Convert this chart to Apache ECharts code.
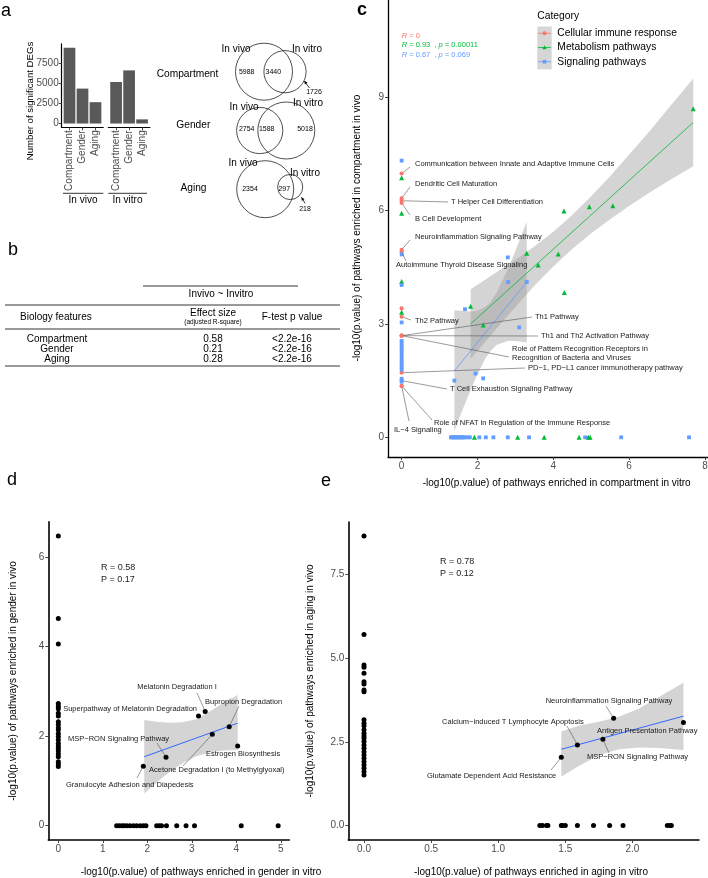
<!DOCTYPE html>
<html><head><meta charset="utf-8">
<script src="https://cdn.jsdelivr.net/npm/echarts@6/dist/echarts.min.js"></script>
<style>html,body{margin:0;padding:0;background:#fff}#c{width:708px;height:878px}</style>
</head><body><div id="c"></div>
<script>
// ---------------- DATA ----------------
const barCategories = ['Compartment', 'Gender', 'Aging'];
const invivoDEGs = [9428, 4342, 2651];
const invitroDEGs = [5166, 6606, 515];
const barTicks = [0, 2500, 5000, 7500];

const vennNames = ['Compartment', 'Gender', 'Aging'];
const vennCounts = [[5988, 3440, 1726], [2754, 1588, 5018], [2354, 297, 218]]; // vivo-only, shared, vitro-only

const tableHead = ['Invivo ~ Invitro', 'Biology features', 'Effect size', '(adjusted R-square)', 'F-test p value'];
const tableFeatures = ['Compartment', 'Gender', 'Aging'];
const tableEffect = ['0.58', '0.21', '0.28'];
const tableP = ['<2.2e-16', '<2.2e-16', '<2.2e-16'];

// panel c
const cImmune = [[0,6.98],[0,6.32],[0,6.26],[0,6.20],[0,4.96],[0,4.91],[0,3.41],[0,3.19],[0,2.69],[0,2.69],[0,2.69],[0,1.71],[0,1.50],[0,1.36],[0,1.36]];
const cMetabolism = [[0,6.87],[0,5.93],[0,4.12],[0,3.31],[4.28,5.99],[4.95,6.10],[5.57,6.13],[3.30,4.87],[4.13,4.85],[3.60,4.56],[4.29,3.83],[1.82,3.47],[2.15,2.97],[7.69,8.69],[1.92,0],[3.06,0],[3.76,0],[4.68,0],[4.92,0],[4.97,0]];
const cSignaling = [[0,7.32],[0,4.84],[0,4.03],[0,3.04],[0,2.55],[0,2.48],[0,2.40],[0,2.33],[0,2.25],[0,2.16],[0,2.08],[0,2.01],[0,1.93],[0,1.86],[0,1.79],[0,1.55],[0,1.47],[2.80,4.76],[2.81,4.11],[3.30,4.11],[1.67,3.39],[3.10,2.91],[1.95,1.69],[2.15,1.56],[1.39,1.50],[1.30,0],[1.33,0],[1.36,0],[1.39,0],[1.42,0],[1.45,0],[1.48,0],[1.51,0],[1.54,0],[1.57,0],[1.60,0],[1.63,0],[1.67,0],[1.74,0],[1.80,0],[2.05,0],[2.22,0],[2.42,0],[2.80,0],[3.36,0],[4.84,0],[5.79,0],[7.58,0]];
const cCategories = ['Cellular immune response', 'Metabolism pathways', 'Signaling pathways'];
const cStats = [['0', null], ['0.93', '0.00011'], ['0.67', '0.069']];
const cGreenFit = [[1.82, 3.00], [7.69, 8.33]];
const cBlueFit = [[1.39, 1.76], [3.30, 4.11]];
const cGreenBandX = [1.82,2.5,3,3.5,4,4.5,5,5.5,6,6.5,7,7.69];
const cGreenBandLo = [2.08,2.87,3.45,4.01,4.52,4.98,5.40,5.77,6.12,6.45,6.76,7.17];
const cGreenBandHi = [3.92,4.37,4.69,5.05,5.44,5.88,6.38,6.91,7.48,8.05,8.66,9.49];
const cBlueBandX = [1.39,1.6,1.82,2.0,2.2,2.35,2.5,2.8,3.0,3.3];
const cBlueBandLo = [0.16,0.72,1.25,1.67,2.07,2.29,2.44,2.55,2.55,2.51];
const cBlueBandHi = [3.36,3.34,3.33,3.35,3.45,3.59,3.82,4.45,4.93,5.71];
const cXTicks = [0, 2, 4, 6, 8];
const cYTicks = [0, 3, 6, 9];
const cLabelNames = ['Communication between Innate and Adaptive Immune Cells','Dendritic Cell Maturation','T Helper Cell Differentiation','B Cell Development','Neuroinflammation Signaling Pathway','Autoimmune Thyroid Disease Signaling','Th2 Pathway','Th1 Pathway','Th1 and Th2 Activation Pathway','Role of Pattern Recognition Receptors in\nRecognition of Bacteria and Viruses','PD\u22121, PD\u2212L1 cancer immunotherapy pathway','T Cell Exhaustion Signaling Pathway','Role of NFAT in Regulation of the Immune Response','IL\u22124 Signaling'];
const cLabelPoints = [[0,6.98],[0,6.32],[0,6.26],[0,6.20],[0,4.96],[0,4.91],[0,3.19],[0,2.69],[0,2.69],[0,2.69],[0,1.71],[0,1.50],[0,1.36],[0,1.36]];

// panel d
const dVivoOnly = [6.47,4.63,4.06,2.73,2.67,2.61,2.51,2.45,2.32,2.26,2.19,2.14,2.06,1.99,1.92,1.84,1.78,1.73,1.67,1.60,1.54,1.43,1.38,1.32];
const dVitroOnly = [1.31,1.37,1.43,1.48,1.54,1.61,1.69,1.76,1.84,1.91,1.97,2.21,2.27,2.32,2.43,2.66,2.87,3.06,4.11,4.94];
const dShared = [[3.15,2.45],[3.30,2.55],[3.84,2.21],[4.03,1.78],[3.46,2.04],[2.42,1.53],[1.91,1.33]];
const dSharedNames = ['Superpathway of Melatonin Degradation','Melatonin Degradation I','Bupropion Degradation','Estrogen Biosynthesis','Acetone Degradation I (to Methylglyoxal)','MSP\u2212RON Signaling Pathway','Granulocyte Adhesion and Diapedesis'];
const dFit = [[1.93, 1.54], [4.03, 2.29]];
const dBandX = [1.93,2.2,2.5,2.8,3.1,3.4,3.7,4.03];
const dBandLo = [0.72,0.96,1.20,1.40,1.55,1.64,1.68,1.69];
const dBandHi = [2.36,2.32,2.30,2.31,2.38,2.55,2.74,2.92];
const dStats = ['R = 0.58', 'P = 0.17'];
const dXTicks = [0,1,2,3,4,5];
const dYTicks = [0,2,4,6];

// panel e
const eVivoOnly = [8.65,5.71,4.80,4.73,4.55,4.30,4.23,4.05,4.00,3.16,3.06,2.98,2.86,2.76,2.68,2.61,2.51,2.41,2.31,2.21,2.11,2.01,1.91,1.81,1.71,1.61,1.51];
const eVitroOnly = [1.31,1.33,1.36,1.37,1.47,1.48,1.50,1.59,1.71,1.83,1.93,2.26,2.28,2.29];
const eShared = [[1.86,3.21],[1.59,2.41],[2.38,3.08],[1.78,2.58],[1.47,2.04]];
const eSharedNames = ['Neuroinflammation Signaling Pathway','Calcium\u2212induced T Lymphocyte Apoptosis','Antigen Presentation Pathway','MSP\u2212RON Signaling Pathway','Glutamate Dependent Acid Resistance'];
const eFit = [[1.47, 2.28], [2.38, 3.27]];
const eBandX = [1.47,1.6,1.75,1.9,2.05,2.2,2.38];
const eBandLo = [1.46,1.78,2.10,2.28,2.33,2.32,2.26];
const eBandHi = [2.81,2.98,3.10,3.25,3.50,3.85,4.27];
const eStats = ['R = 0.78', 'P = 0.12'];
const eXTicks = [0,0.5,1,1.5,2];
const eYTicks = [0,2.5,5,7.5];

// ---------------- LAYOUT ----------------
const FONT = '"Liberation Sans", Arial, Helvetica, sans-serif';
const RED = '#F8766D', GREEN = '#00BA38', BLUE = '#619CFF', SMOOTH = '#3366FF';
const BAND = 'rgba(153,153,153,0.42)';

// label layouts: [textX, textY, lineEndX, lineEndY, align]
const cLabelLayout = [[415,164,410,167],[415,184,410,187],[451,202,448,202],[415,219,410,215],[415,237,410,240],[396,265,406,261],[415,321,411,320],[535,317,532,317],[541,336,538,336],[512,353,509,357],[528,368,525,368],[450,389,447,389],[434,423,432,420],[394,430,409,421]];
const dLabelLayout = [[197,709,null,null,'right'],[177,687,197,693,'center'],[205,702,239,706],[206,754,null,null],[149,770,183,766],[68,739,157,743],[66,785,137,778]];
const eLabelLayout = [[609,701,606,706,'center'],[442,722,567,726],[597,731,null,null],[587,757,609,753],[427,776,551,770]];

const chart = echarts.init(document.getElementById('c'));

function valueAxis(gi, min, max, ticks, opt) {
  opt = opt || {};
  return {
    type: 'value', gridIndex: gi, min, max, show: opt.show !== false,
    axisLine: {show: opt.line !== false, onZero: false, lineStyle: {color: '#000', width: opt.lw || 1.2}},
    axisTick: {show: opt.ticks !== false, customValues: ticks, length: 3, lineStyle: {color: '#333', width: 0.9}},
    axisLabel: {show: opt.labels !== false, customValues: ticks, color: '#4d4d4d', fontSize: opt.fs || 10, fontFamily: FONT, margin: opt.margin || 4,
      rotate: opt.rotate || 0, formatter: opt.fmt || (v => String(v))},
    splitLine: {show: false}
  };
}

function band(xi, bx, lo, hi) {
  return {type: 'custom', xAxisIndex: xi, yAxisIndex: xi, z: 1, silent: true, data: [[bx[0], lo[0]]],
    renderItem: (p, api) => {
      const pts = [];
      for (let i = 0; i < bx.length; i++) pts.push(api.coord([bx[i], hi[i]]));
      for (let i = bx.length - 1; i >= 0; i--) pts.push(api.coord([bx[i], lo[i]]));
      return {type: 'polygon', shape: {points: pts}, style: {fill: BAND}};
    }};
}

function fitLine(xi, pts, color, w) {
  return {type: 'line', xAxisIndex: xi, yAxisIndex: xi, z: 2, data: pts, symbol: 'none', silent: true,
    lineStyle: {color, width: w}};
}

function scatter(xi, data, symbol, size, color) {
  return {type: 'scatter', xAxisIndex: xi, yAxisIndex: xi, z: 3, data, symbol, symbolSize: size, silent: true,
    itemStyle: {color, opacity: 1}};
}

function annotations(xi, names, points, layout, fs) {
  return {type: 'custom', xAxisIndex: xi, yAxisIndex: xi, z: 5, silent: true, data: points,
    renderItem: (params, api) => {
      const i = params.dataIndex;
      const L = layout[i];
      const pt = api.coord(points[i]);
      const ch = [];
      if (L[2] != null) {
        const dx = L[2] - pt[0], dy = L[3] - pt[1], d = Math.sqrt(dx*dx + dy*dy) || 1;
        const s = Math.min(2, d / 2);
        ch.push({type: 'line', shape: {x1: pt[0] + dx / d * s, y1: pt[1] + dy / d * s, x2: L[2], y2: L[3]},
          style: {stroke: '#555', lineWidth: 0.6}});
      }
      ch.push({type: 'text', style: {text: names[i], x: L[0], y: L[1], fill: '#1a1a1a', font: fs + 'px ' + FONT,
        textAlign: L[4] || 'left', textVerticalAlign: 'middle', align: L[4] || 'left', verticalAlign: 'middle', lineHeight: 9}});
      return {type: 'group', children: ch};
    }};
}

// ---------------- GRAPHICS ----------------
const G = [];
function T(x, y, text, size, o) {
  o = o || {};
  const st = {text, x: 0, y: 0, fill: o.color || '#000', font: (o.style || '') + ' ' + (o.weight || '') + ' ' + size + 'px ' + FONT,
      textAlign: o.align || 'center', textVerticalAlign: o.va || 'middle', align: o.align || 'center', verticalAlign: o.va || 'middle'};
  if (o.rich) st.rich = o.rich;
  G.push({type: 'text', x, y, rotation: o.rot || 0, silent: true, z: 10, style: st});
}
function Ln(x1, y1, x2, y2, w, c) {
  G.push({type: 'line', silent: true, z: 10, shape: {x1, y1, x2, y2}, style: {stroke: c || '#000', lineWidth: w || 0.8}});
}
function arrow(x1, y1, x2, y2) {
  Ln(x1, y1, x2, y2, 0.8, '#000');
  const dx = x2 - x1, dy = y2 - y1, d = Math.sqrt(dx*dx + dy*dy);
  const ux = dx / d, uy = dy / d, px = -uy, py = ux;
  const bx = x2 - ux * 3.2, by = y2 - uy * 3.2;
  G.push({type: 'polygon', silent: true, z: 10, shape: {points: [[x2, y2], [bx + px * 1.6, by + py * 1.6], [bx - px * 1.6, by - py * 1.6]]}, style: {fill: '#000'}});
}

// panel letters
T(1, 11, 'a', 18, {align: 'left'});
T(8, 250, 'b', 18, {align: 'left'});
T(357, 10, 'c', 18, {align: 'left', weight: 'bold'});
T(7, 480, 'd', 18, {align: 'left'});
T(321, 481, 'e', 18, {align: 'left'});

// panel a bar chart annotations
T(30.5, 101, 'Number of significant DEGs', 9.6, {rot: Math.PI / 2});
Ln(63, 193.3, 103.3, 193.3, 0.8);
T(83, 200.5, 'In vivo', 10);
Ln(108.3, 193.3, 147, 193.3, 0.8);
T(127.5, 200.5, 'In vitro', 10);

// Venn diagrams
const vennLayout = [
  {lx: 264, cy: 71.7, d: 21, labelY: 74, labelX: 187.5, vivo: [236, 49], vitro: [307, 49], nums: [[246.7, 71.7], [273.3, 71.7], [314, 92]], arrow: [309.5, 88, 304.3, 81]},
  {lx: 259.7, cy: 130.5, d: 26.6, labelY: 125, labelX: 193.3, vivo: [244, 107.7], vitro: [308, 103.3], nums: [[246.7, 128.7], [266.7, 128.7], [305, 128.7]]},
  {lx: 265.2, cy: 189.2, d: 25, dy: -2.2, labelY: 187.7, labelX: 193.5, vivo: [243, 163.5], vitro: [305, 173.3], nums: [[250, 189], [284.3, 189], [305, 208.6]], arrow: [305, 203.3, 301.5, 197.3]}
];
const VR = 28.5;
vennNames.forEach((name, k) => {
  const c = vennCounts[k], L = vennLayout[k];
  const vivo = c[0] + c[1], vitro = c[1] + c[2], big = Math.max(vivo, vitro);
  const r1 = VR * Math.sqrt(vivo / big), r2 = VR * Math.sqrt(vitro / big);
  G.push({type: 'circle', silent: true, z: 10, shape: {cx: L.lx, cy: L.cy, r: r1}, style: {fill: 'none', stroke: '#222', lineWidth: 0.8}});
  G.push({type: 'circle', silent: true, z: 10, shape: {cx: L.lx + L.d, cy: L.cy + (L.dy || 0), r: r2}, style: {fill: 'none', stroke: '#222', lineWidth: 0.8}});
  T(L.labelX, L.labelY, name, 10.2);
  T(L.vivo[0], L.vivo[1], 'In vivo', 10);
  T(L.vitro[0], L.vitro[1], 'In vitro', 10);
  c.forEach((v, j) => T(L.nums[j][0], L.nums[j][1], String(v), 7));
  if (L.arrow) arrow(...L.arrow);
});

// panel b table
Ln(143, 286, 298, 286, 0.8);
T(221, 294, tableHead[0], 10);
Ln(5, 305, 340, 305, 0.8);
T(20, 317, tableHead[1], 10, {align: 'left'});
T(213, 313, tableHead[2], 10);
T(213, 322, tableHead[3], 6.5);
T(292, 317, tableHead[4], 10);
Ln(5, 329, 340, 329, 0.8);
tableFeatures.forEach((f, i) => {
  const y = 339 + i * 10;
  T(57, y, f, 10);
  T(213, y, tableEffect[i], 10);
  T(292, y, tableP[i], 10);
});
Ln(5, 366, 340, 366, 0.8);

// panel c stats (italic R and p)
const statColors = [RED, GREEN, BLUE];
cStats.forEach((s, i) => {
  const c = statColors[i];
  const rich = {
    i: {fontStyle: 'italic', fontSize: 7.5, fontFamily: FONT, fill: c, color: c},
    n: {fontSize: 7.5, fontFamily: FONT, fill: c, color: c}
  };
  let txt = '{i|R}{n| = ' + s[0] + '}';
  if (s[1]) txt += '{n|  , }{i|p}{n| = ' + s[1] + '}';
  G.push({type: 'text', x: 401.7, y: 35.7 + i * 9.5, silent: true, z: 10,
    style: {text: txt, x: 0, y: 0, rich, fill: c, fontSize: 7.5, fontFamily: FONT, textAlign: 'left', textVerticalAlign: 'middle', align: 'left', verticalAlign: 'middle'}});
});
T(556.7, 483.5, '-log10(p.value) of pathways enriched in compartment in vitro', 10);
T(357, 228, '-log10(p.value) of pathways enriched in compartment in vivo', 10, {rot: Math.PI / 2});
// legend
T(537.3, 16.3, 'Category', 10.3, {align: 'left'});
G.push({type: 'rect', silent: true, z: 9, shape: {x: 537.3, y: 26.5, width: 14.4, height: 42.8}, style: {fill: '#d6d6d6'}});
cCategories.forEach((name, i) => {
  const y = 33.3 + i * 14.2;
  Ln(538, y, 551, y, 0.8, statColors[i]);
  T(557.3, y, name, 10.3, {align: 'left'});
});
G.push({type: 'circle', silent: true, z: 11, shape: {cx: 544.5, cy: 33.3, r: 2}, style: {fill: RED}});
G.push({type: 'polygon', silent: true, z: 11, shape: {points: [[544.5, 45.3], [546.8, 49.3], [542.2, 49.3]]}, style: {fill: GREEN}});
G.push({type: 'rect', silent: true, z: 11, shape: {x: 542.7, y: 59.9, width: 3.6, height: 3.6}, style: {fill: BLUE}});

// panel d, e texts
T(101, 567.7, dStats[0], 9, {align: 'left', color: '#222'});
T(101, 579.3, dStats[1], 9, {align: 'left', color: '#222'});
T(440, 561.7, eStats[0], 9, {align: 'left', color: '#222'});
T(440, 574, eStats[1], 9, {align: 'left', color: '#222'});
T(201, 872.3, '-log10(p.value) of pathways enriched in gender in vitro', 10);
T(13.5, 681, '-log10(p.value) of pathways enriched in gender in vivo', 10, {rot: Math.PI / 2});
T(531, 872.3, '-log10(p.value) of pathways enriched in aging in vitro', 10);
T(310, 681, '-log10(p.value) of pathways enriched in aging in vivo', 10, {rot: Math.PI / 2});

// ---------------- OPTION ----------------
const bandWidthBars = 11.7;
const fmt1 = v => v.toFixed(1);
const option = {
  animation: false,
  backgroundColor: '#fff',
  grid: [
    {left: 61.7, top: 43.9, width: 41.6, height: 83.4, containLabel: false, outerBoundsMode: 'none'},
    {left: 108.3, top: 43.9, width: 41.6, height: 83.4, containLabel: false, outerBoundsMode: 'none'},
    {left: 388, top: 0, width: 320, height: 457, containLabel: false, outerBoundsMode: 'none'},
    {left: 48.3, top: 521.7, width: 241, height: 318.3, containLabel: false, outerBoundsMode: 'none'},
    {left: 348.3, top: 522, width: 350.7, height: 318, containLabel: false, outerBoundsMode: 'none'}
  ],
  xAxis: [
    valueAxis(0, 0.4, 3.6, [1, 2, 3], {rotate: 90, fmt: v => barCategories[Math.round(v) - 1], margin: 3}),
    valueAxis(1, 0.4, 3.6, [1, 2, 3], {rotate: 90, fmt: v => barCategories[Math.round(v) - 1], margin: 3}),
    valueAxis(2, -0.36, 8.08, cXTicks, {lw: 1.3}),
    valueAxis(3, -0.225, 5.19, dXTicks, {lw: 1.6}),
    valueAxis(4, -0.117, 2.496, eXTicks, {lw: 1.6, fmt: fmt1})
  ],
  yAxis: [
    valueAxis(0, -471, 9899, barTicks, {margin: 3}),
    valueAxis(1, -471, 9899, barTicks, {line: false, ticks: false, labels: false}),
    valueAxis(2, -0.52, 11.57, cYTicks, {lw: 1.3}),
    valueAxis(3, -0.32, 6.79, dYTicks, {lw: 1.6}),
    valueAxis(4, -0.43, 9.07, eYTicks, {lw: 1.6, fmt: fmt1})
  ],
  graphic: {elements: G},
  series: [
    {type: 'bar', xAxisIndex: 0, yAxisIndex: 0, barWidth: bandWidthBars, data: invivoDEGs.map((v, i) => [i + 1, v]), itemStyle: {color: '#595959'}, silent: true},
    {type: 'bar', xAxisIndex: 1, yAxisIndex: 1, barWidth: bandWidthBars, data: invitroDEGs.map((v, i) => [i + 1, v]), itemStyle: {color: '#595959'}, silent: true},
    // c
    band(2, cGreenBandX, cGreenBandLo, cGreenBandHi),
    band(2, cBlueBandX, cBlueBandLo, cBlueBandHi),
    fitLine(2, cGreenFit, GREEN, 0.8),
    fitLine(2, cBlueFit, BLUE, 0.8),
    scatter(2, cImmune, 'circle', 4.2, RED),
    scatter(2, cMetabolism, 'triangle', 5, GREEN),
    scatter(2, cSignaling, 'rect', 3.8, BLUE),
    annotations(2, cLabelNames, cLabelPoints, cLabelLayout, 7.5),
    // d
    band(3, dBandX, dBandLo, dBandHi),
    fitLine(3, dFit, SMOOTH, 1),
    scatter(3, dVivoOnly.map(v => [0, v]), 'circle', 5, '#000'),
    scatter(3, dVitroOnly.map(v => [v, 0]), 'circle', 5, '#000'),
    scatter(3, dShared, 'circle', 5, '#000'),
    annotations(3, dSharedNames, dShared, dLabelLayout, 7.5),
    // e
    band(4, eBandX, eBandLo, eBandHi),
    fitLine(4, eFit, SMOOTH, 1),
    scatter(4, eVivoOnly.map(v => [0, v]), 'circle', 5, '#000'),
    scatter(4, eVitroOnly.map(v => [v, 0]), 'circle', 5, '#000'),
    scatter(4, eShared, 'circle', 5, '#000'),
    annotations(4, eSharedNames, eShared, eLabelLayout, 7.5)
  ]
};
chart.setOption(option);
</script></body></html>
